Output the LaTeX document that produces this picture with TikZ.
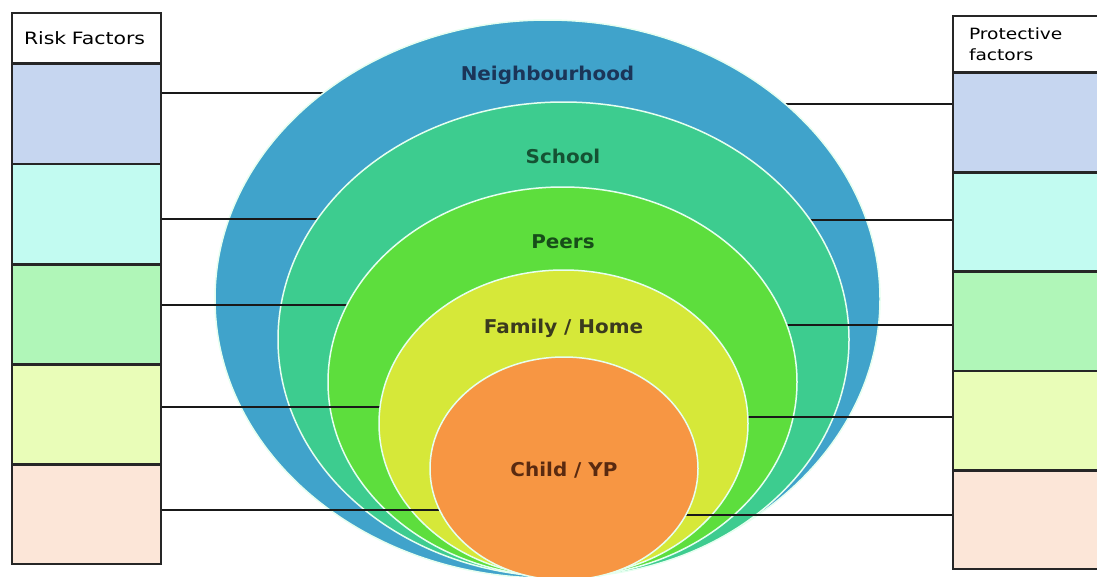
\documentclass[tikz,border=0pt]{standalone}
\usepackage{fontspec}
\setmainfont{DejaVu Sans}
\newfontfamily\boxfont[FakeStretch=1.2]{DejaVu Sans}
\newfontfamily\ringfont[FakeStretch=1.05]{DejaVu Sans}
\usetikzlibrary{positioning, shapes.geometric}

\definecolor{lblue}{HTML}{C6D6F0}
\definecolor{lcyan}{HTML}{C2FBF1}
\definecolor{lgreen}{HTML}{B0F6B8}
\definecolor{lyellow}{HTML}{E9FDB8}
\definecolor{lpeach}{HTML}{FCE6D8}
\definecolor{nbhblue}{HTML}{40A3CB}
\definecolor{schoolteal}{HTML}{3DCC8F}
\definecolor{peersgreen}{HTML}{5DDE3D}
\definecolor{homeyellow}{HTML}{D6E839}
\definecolor{childorange}{HTML}{F79643}
\definecolor{ringline}{HTML}{E6FFF0}
\definecolor{nbhtext}{HTML}{1B3558}
\definecolor{schooltext}{HTML}{155233}
\definecolor{peerstext}{HTML}{174D19}
\definecolor{hometext}{HTML}{3A3A1E}
\definecolor{childtext}{HTML}{5A2A10}

\begin{document}
\begin{tikzpicture}[x=1pt, y=-1pt,
    factor/.style = {draw=black!85, line width=1.4pt, inner sep=0pt},
    header/.style = {factor, fill=white, align=left},
    ring/.style = {ellipse, draw=ringline, line width=1.5pt, inner sep=0pt},
    link/.style = {draw=black!90, line width=1.9pt},
    lbl/.style = {anchor=base, font=\ringfont\fontsize{19}{22}\selectfont\bfseries}]
    \useasboundingbox (0,0) rectangle (1097,576);

    % risk factors column
    \node[header, minimum width=149pt, minimum height=50pt, text width=125pt, inner xsep=12pt,
          font=\boxfont\fontsize{17}{20}\selectfont] (rf0) at (86.5,38) {Risk Factors};
    \foreach \c [count=\i, remember=\i as \j (initially 0)] in {lblue, lcyan, lgreen, lyellow, lpeach}
        \node[factor, fill=\c, minimum width=149pt, minimum height=98.8pt, below=0pt of rf\j] (rf\i) {};

    % protective factors column
    \node[header, minimum width=146pt, minimum height=56pt, text width=114pt, inner xsep=16pt,
          font=\boxfont\fontsize{15.5}{21}\selectfont] (pf0) at (1026,44) {Protective\\factors};
    \foreach \c [count=\i, remember=\i as \j (initially 0)] in {lblue, lcyan, lgreen, lyellow, lpeach}
        \node[factor, fill=\c, minimum width=146pt, minimum height=98pt, below=0pt of pf\j] (pf\i) {};

    % rings, each with its two links underneath
    \foreach \i/\cx/\cy/\w/\h/\col/\ls/\rs in {
        1/547.5/299/665/558/nbhblue/21/18,
        2/563.5/339.5/571/475/schoolteal/-5/2,
        3/562.5/382/469/390/peersgreen/9/-4,
        4/563.5/423.5/369/307/homeyellow/7.5/4,
        5/564/468.5/268/223/childorange/4.5/5} {
        \coordinate (c\i) at (\cx,\cy);
        \draw[link] ([yshift=\ls pt]rf\i.east) coordinate (l\i) -- (l\i -| c\i);
        \draw[link] ([yshift=\rs pt]pf\i.west) coordinate (r\i) -- (r\i -| c\i);
        \node[ring, fill=\col, minimum width=\w pt, minimum height=\h pt] (ring\i) at (c\i) {};
    }

    % ring labels
    \node[lbl, text=nbhtext] (tNbh) at (547.5,80) {Neighbourhood};
    \node[lbl, text=schooltext] (tSchool) at (563,163) {School};
    \node[lbl, text=peerstext] (tPeers) at (563,248) {Peers};
    \node[lbl, text=hometext] (tHome) at (563.5,333) {Family / Home};
    \node[lbl, text=childtext] (tChild) at (564,476) {Child / YP};
\end{tikzpicture}
\end{document}
